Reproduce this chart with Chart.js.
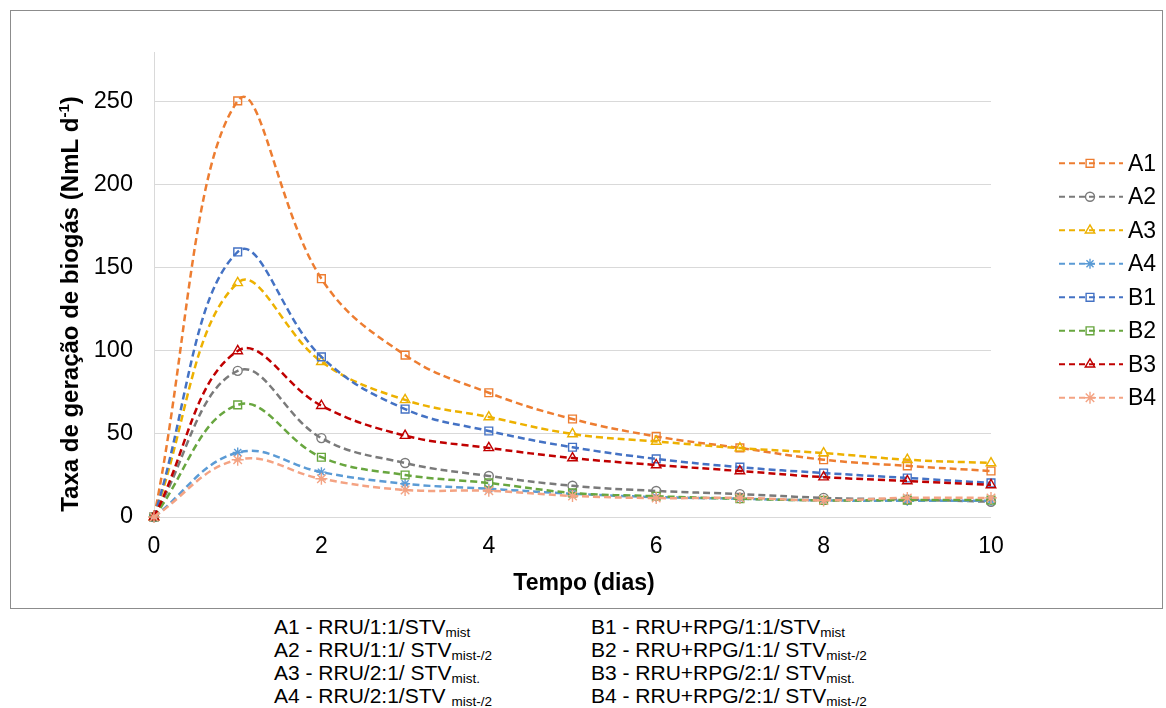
<!DOCTYPE html>
<html>
<head>
<meta charset="utf-8">
<script src="https://cdn.jsdelivr.net/npm/chart.js@4.4.1/dist/chart.umd.min.js"></script>
<style>
html, body { margin: 0; padding: 0; background: #fff; }
body { width: 1166px; height: 708px; position: relative; overflow: hidden; font-family: 'Liberation Sans', Arial, sans-serif; }
#box { position: absolute; left: 10px; top: 10px; width: 1151px; height: 597px; border: 1px solid #8c8c8c; }
#box canvas { display: block; }
.cap { position: absolute; font-size: 21px; line-height: 23px; color: #000; white-space: nowrap; }
.cap sub { font-size: 13.5px; vertical-align: -3px; line-height: 0; }
</style>
</head>
<body>
<div id="box"><canvas id="chart" width="1151" height="597"></canvas></div>
<div class="cap" id="capA" style="left:274px;top:615px"></div>
<div class="cap" id="capB" style="left:591px;top:615px"></div>
<script>
'use strict';
// ── Data ──────────────────────────────────────────────────────────────────
const days = [0, 1, 2, 3, 4, 5, 6, 7, 8, 9, 10];

const seriesNames = ['A1', 'A2', 'A3', 'A4', 'B1', 'B2', 'B3', 'B4'];
const A1 = [0, 250.6, 143.5, 97.5, 74.8, 59.0, 48.5, 41.6, 34.5, 30.8, 27.7];
const A2 = [0, 88.0, 47.5, 32.5, 24.7, 18.8, 15.7, 13.8, 11.5, 10.5, 9.2];
const A3 = [0, 141.0, 93.5, 70.5, 60.2, 50.0, 45.5, 41.5, 38.5, 34.5, 32.5];
const A4 = [0, 38.8, 27.0, 20.0, 17.0, 14.0, 12.0, 11.0, 10.0, 9.8, 9.8];
const B1 = [0, 159.6, 96.4, 65.0, 51.8, 42.0, 35.0, 30.0, 26.5, 23.5, 20.5];
const B2 = [0, 67.5, 36.0, 25.3, 20.5, 14.5, 12.5, 11.0, 10.0, 10.2, 10.2];
const B3 = [0, 100.0, 67.0, 49.0, 41.6, 35.5, 31.3, 27.7, 24.0, 21.7, 19.3];
const B4 = [0, 34.5, 23.0, 16.3, 15.8, 12.7, 11.4, 11.5, 10.0, 11.5, 11.5];

const yTitle = 'Taxa de geração de biogás (NmL d';
const yTitleSup = '-1';
const xTitle = 'Tempo (dias)';

const notesA = [
    ['A1 - RRU/1:1/STV', 'mist'],
    ['A2 - RRU/1:1/ STV', 'mist-/2'],
    ['A3 - RRU/2:1/ STV', 'mist.'],
    ['A4 - RRU/2:1/STV ', 'mist-/2'],
];
const notesB = [
    ['B1 - RRU+RPG/1:1/STV', 'mist'],
    ['B2 - RRU+RPG/1:1/ STV', 'mist-/2'],
    ['B3 - RRU+RPG/2:1/ STV', 'mist.'],
    ['B4 - RRU+RPG/2:1/ STV', 'mist-/2'],
];

// ── Styles ────────────────────────────────────────────────────────────────
const FONT = "'Liberation Sans', Arial, sans-serif";
const COLORS = ['#ED7D31', '#7A7A7A', '#EDB100', '#5B9BD5', '#4472C4', '#68A63F', '#C00000', '#F4A383'];
const MARKERS = ['rect', 'circle', 'triangle', 'star', 'rect', 'rect', 'triangle', 'star'];
const RADII = [5.5, 4.5, 5.5, 5, 5.5, 5.5, 5.5, 6];

const allSeries = [A1, A2, A3, A4, B1, B2, B3, B4];

const datasets = allSeries.map((vals, i) => ({
    label: seriesNames[i],
    data: days.map((d, k) => ({ x: d, y: vals[k] })),
    borderColor: COLORS[i],
    borderWidth: 2.5,
    borderDash: [7, 4],
    tension: 0.4,
    fill: false,
    pointStyle: MARKERS[i],
    pointRadius: RADII[i],
    pointBorderColor: COLORS[i],
    pointBackgroundColor: 'rgba(0,0,0,0)',
    pointBorderWidth: 1.4,
    order: allSeries.length - i,   // first series underneath, like Excel
    clip: false,
}));

// ── Side legend: dashed sample + marker + name ───────────────────────────
const sideLegend = {
    id: 'sideLegend',
    afterDraw(chart) {
        const ctx = chart.ctx;
        chart.data.datasets.forEach((ds, i) => {
            const y = 152.3 + i * 33.5;
            ctx.save();
            ctx.strokeStyle = ds.borderColor;
            ctx.lineWidth = 2;
            ctx.setLineDash([6, 4]);
            ctx.beginPath();
            ctx.moveTo(1048, y);
            ctx.lineTo(1112, y);
            ctx.stroke();
            ctx.setLineDash([]);
            ctx.fillStyle = 'rgba(0,0,0,0)';
            ctx.lineWidth = 1.4;
            Chart.helpers.drawPoint(ctx, {
                pointStyle: ds.pointStyle, radius: ds.pointRadius, rotation: 0, borderWidth: 1.4
            }, 1079, y);
            ctx.fillStyle = '#000';
            ctx.font = '23px ' + FONT;
            ctx.textBaseline = 'middle';
            ctx.textAlign = 'left';
            ctx.fillText(ds.label, 1117, y + 1);
            ctx.restore();
        });
    }
};

// ── Axis titles (drawn by hand for the superscript) ──────────────────────
const axisTitles = {
    id: 'axisTitles',
    afterDraw(chart) {
        const ctx = chart.ctx;
        ctx.save();
        ctx.fillStyle = '#000';
        ctx.textBaseline = 'alphabetic';

        ctx.font = 'bold 23px ' + FONT;
        ctx.textAlign = 'center';
        ctx.fillText(xTitle, 573, 579);

        // y title, rotated
        ctx.textAlign = 'left';
        ctx.font = 'bold 24px ' + FONT;
        const mainW = ctx.measureText(yTitle).width;
        ctx.font = 'bold 15px ' + FONT;
        const supW = ctx.measureText(yTitleSup).width;
        ctx.font = 'bold 24px ' + FONT;
        const closeW = ctx.measureText(')').width;
        const total = mainW + supW + closeW;
        ctx.translate(67, 293);
        ctx.rotate(-Math.PI / 2);
        let x = -total / 2;
        ctx.fillText(yTitle, x, 0);
        x += mainW;
        ctx.font = 'bold 15px ' + FONT;
        ctx.fillText(yTitleSup, x, -9);
        x += supW;
        ctx.font = 'bold 24px ' + FONT;
        ctx.fillText(')', x, 0);
        ctx.restore();
    }
};

new Chart(document.getElementById('chart'), {
    type: 'line',
    data: { datasets },
    plugins: [sideLegend, axisTitles],
    options: {
        responsive: false,
        animation: false,
        devicePixelRatio: 1,
        layout: { padding: { top: 41, right: 171, bottom: 0, left: 0 } },
        plugins: { legend: { display: false }, tooltip: { enabled: false } },
        scales: {
            x: {
                type: 'linear',
                min: 0, max: 10,
                grid: { display: false, drawTicks: false },
                border: { display: false },
                ticks: { stepSize: 2, padding: 16, color: '#000', font: { family: FONT, size: 23 } },
                afterFit: s => { s.height = 91; },
            },
            y: {
                min: 0, max: 280,
                grid: { color: '#d9d9d9', lineWidth: 1, drawTicks: false },
                border: { display: true, color: '#d9d9d9' },
                ticks: { stepSize: 50, includeBounds: false, padding: 21, color: '#000', font: { family: FONT, size: 23.5 } },
                afterFit: s => { s.width = 143; },
            }
        }
    }
});

// ── Caption under the chart ──────────────────────────────────────────────
function fillNotes(id, notes) {
    document.getElementById(id).innerHTML = notes
        .map(([main, sub]) => main + '<sub>' + sub + '</sub>')
        .join('<br>');
}
fillNotes('capA', notesA);
fillNotes('capB', notesB);
</script>
</body>
</html>
